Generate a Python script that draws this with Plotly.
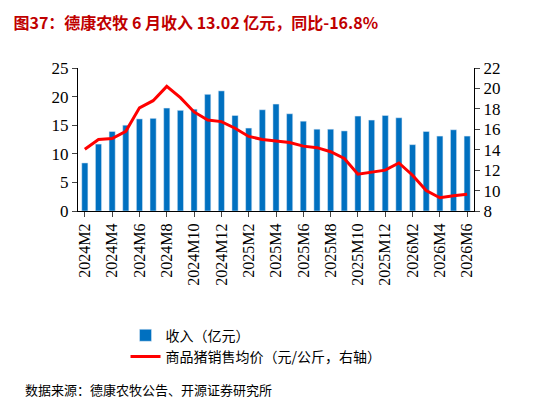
import plotly.graph_objects as go

months = ["2024M2", "2024M3", "2024M4", "2024M5", "2024M6", "2024M7", "2024M8", "2024M9",
          "2024M10", "2024M11", "2024M12", "2025M1", "2025M2", "2025M3", "2025M4", "2025M5",
          "2025M6", "2025M7", "2025M8", "2025M9", "2025M10", "2025M11", "2025M12", "2026M1",
          "2026M2", "2026M3", "2026M4", "2026M5", "2026M6"]
revenue = [8.4, 11.7, 13.9, 15.0, 16.1, 16.2, 18.0, 17.6, 17.8, 20.4, 21.0, 16.7, 14.5, 17.7,
           18.7, 17.0, 15.7, 14.3, 14.3, 14.0, 16.6, 15.9, 16.7, 16.3, 11.6, 13.9, 13.1, 14.2, 13.1]
price = [14.05, 15.0, 15.1, 15.8, 18.1, 18.8, 20.2, 19.1, 17.7, 16.9, 16.75, 16.1, 15.3, 15.0,
         14.85, 14.7, 14.35, 14.2, 13.8, 13.15, 11.6, 11.8, 12.0, 12.7, 11.5, 10.0, 9.3, 9.5, 9.65]
tick_labels = months[::2]

font = "Liberation Serif, Noto Sans CJK SC"

fig = go.Figure()
fig.add_trace(go.Bar(x=months, y=revenue, name="收入（亿元）", marker_color="#0070C0", width=0.45))
fig.add_trace(go.Scatter(x=months, y=price, name="商品猪销售均价（元/公斤，右轴）", yaxis="y2",
                         mode="lines", line=dict(color="#FF0000", width=3)))

fig.update_layout(
    width=546, height=405, margin=dict(l=70, r=80, t=60, b=202),
    plot_bgcolor="white", paper_bgcolor="white",
    font=dict(family=font, size=17, color="black"),
    bargap=0.5,
    xaxis=dict(tickvals=tick_labels, tickangle=-90, showline=True, linecolor="black",
               ticks="outside", tickfont=dict(size=16)),
    yaxis=dict(range=[0, 25], dtick=5, showgrid=False, showline=True, linecolor="black",
               ticks="outside"),
    yaxis2=dict(range=[8, 22], dtick=2, overlaying="y", side="right", showgrid=False,
                showline=True, linecolor="black", ticks="outside"),
    legend=dict(x=0.12, y=-0.76, xanchor="left", yanchor="top", tracegroupgap=10,
                font=dict(family="Noto Sans CJK SC", size=14)),
    title=dict(text="<b>图37：德康农牧 6 月收入 13.02 亿元，同比-16.8%</b>", x=0.01, y=0.975,
               font=dict(color="#C00000", size=16, family="Noto Sans CJK SC")),
)
fig.add_annotation(text="数据来源：德康农牧公告、开源证券研究所", xref="paper", yref="paper",
                   x=-0.14, y=-1.33, showarrow=False, xanchor="left",
                   font=dict(size=13, family="Noto Sans CJK SC"))

fig.write_html("out.html")
